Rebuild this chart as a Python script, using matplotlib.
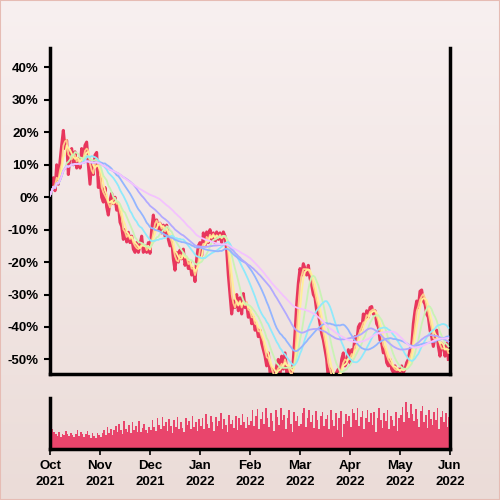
import numpy as np
import pandas as pd
import matplotlib
matplotlib.use("Agg")
import matplotlib.pyplot as plt
from matplotlib.patches import Rectangle

# price change in %, 30 samples per month (Oct 2021 .. May 2022)
price_oct = [0.6, 3, 6, 2, 10, 4, 11, 16, 20.6, 15, 17.5, 7, 13, 15, 10, 14, 9, 12, 9, 15,
             12, 16, 17, 10, 4, 11, 7, 13, 13.8, 3]
price_nov = [6, 0, -1.5, 3, -3, -5.5, -1, 1.2, -2, 0, -4, -2, -7.7, -9, -13, -10, -13.8, -10.8, -14, -12,
             -16, -17, -14, -17, -14.8, -12, -17, -15, -17, -14]
price_dec = [-17.3, -10, -5.5, -9, -7, -10, -8, -11, -8.6, -12, -8.6, -13, -15, -13, -19, -22.5, -17, -20, -16.3, -19,
             -16, -21, -18.8, -22, -20, -24, -22, -26, -19, -15]
price_jan = [-14, -18, -11, -15, -10.7, -14, -10, -13, -11, -14, -10.7, -13, -11, -14, -10.7, -12, -16.3, -24, -30, -36,
             -32, -34, -30, -35, -31, -36, -29.7, -34, -33, -37]
price_feb = [-35, -39, -37, -41, -40, -43, -41, -45, -47, -49, -52, -48, -54, -56, -53, -56, -52, -50, -55, -49,
             -53, -48, -54, -55, -53, -56, -50, -42, -33, -26.5]
price_mar = [-22, -24, -20.5, -22, -24, -21, -25, -27, -30, -31, -35, -36, -39, -42, -44, -47, -50, -56, -53, -56,
             -55, -57, -54, -53, -55, -50, -48, -52, -51, -47]
price_apr = [-51, -47, -48, -43, -45, -40, -39, -41, -36, -38, -35, -37, -34, -33.7, -36, -35, -39, -40, -44, -45,
             -48, -47, -51, -52, -50, -53, -54, -52, -54, -53]
price_may = [-54, -52, -54, -53, -51, -50, -47, -46, -39, -35, -32, -34, -29, -28.6, -32, -33, -36, -37, -41, -43,
             -46, -43, -41, -46, -49, -45, -46, -49, -45, -50]

vol_oct = [47, 40, 33, 30, 26, 34, 24, 30, 27, 36, 30, 25, 31, 28, 24, 30, 37, 26, 33, 30,
           24, 29, 35, 27, 22, 31, 26, 21, 31, 27]
vol_nov = [24, 31, 38, 27, 44, 32, 40, 28, 37, 46, 33, 50, 38, 29, 55, 40, 34, 48, 32, 52,
           37, 45, 34, 54, 33, 41, 49, 37, 32, 44]
vol_dec = [38, 56, 44, 35, 60, 47, 40, 63, 45, 52, 36, 58, 46, 32, 57, 44, 62, 40, 53, 42,
           34, 61, 47, 55, 39, 64, 43, 52, 35, 58]
vol_jan = [46, 60, 40, 68, 50, 42, 64, 52, 36, 62, 45, 55, 70, 40, 58, 47, 33, 66, 49, 57,
           42, 64, 38, 60, 47, 68, 52, 41, 62, 48]
vol_feb = [55, 76, 45, 64, 78, 40, 58, 72, 50, 80, 60, 44, 70, 55, 36, 76, 62, 47, 80, 56,
           66, 40, 60, 76, 50, 34, 72, 54, 64, 46]
vol_mar = [50, 70, 80, 44, 60, 76, 52, 66, 42, 74, 56, 40, 64, 72, 46, 58, 66, 40, 76, 56,
           46, 70, 38, 60, 74, 24, 50, 68, 54, 64]
vol_apr = [44, 78, 70, 56, 80, 46, 62, 74, 40, 60, 76, 52, 70, 48, 72, 34, 60, 80, 56, 42,
           70, 54, 76, 40, 64, 56, 46, 72, 36, 60]
vol_may = [66, 82, 52, 92, 72, 60, 88, 68, 54, 78, 58, 44, 74, 84, 52, 66, 42, 76, 58, 48,
           72, 56, 80, 40, 62, 74, 52, 70, 44, 62]

month_labels = ["Oct\n2021", "Nov\n2021", "Dec\n2021", "Jan\n2022", "Feb\n2022",
                "Mar\n2022", "Apr\n2022", "May\n2022", "Jun\n2022"]
ma_windows = [3, 5, 10, 20, 30, 45, 60]
ma_colors = ["#ffc98a", "#fff09a", "#c9f3b4", "#8fe9fb", "#93b5ff", "#b2a9ff", "#f4c2ff"]

price = pd.Series(price_oct + price_nov + price_dec + price_jan +
                  price_feb + price_mar + price_apr + price_may)
volume = vol_oct + vol_nov + vol_dec + vol_jan + vol_feb + vol_mar + vol_apr + vol_may
x = np.arange(len(price)) / 30.0

plt.rcParams['font.family'] = ['Liberation Sans', 'DejaVu Sans']

fig = plt.figure(figsize=(5, 5), dpi=100)

# background gradient
bg = fig.add_axes([0, 0, 1, 1], zorder=-10)
grad = np.linspace(0, 1, 256).reshape(-1, 1)
top = np.array([248, 240, 240]) / 255
bot = np.array([235, 220, 216]) / 255
img = top[None, None, :] * (1 - grad[:, :, None]) + bot[None, None, :] * grad[:, :, None]
bg.imshow(img, aspect='auto', extent=[0, 1, 0, 1])
bg.add_patch(Rectangle((0, 0), 1, 1, fill=False, edgecolor="#e6bcb4", lw=1.5,
                       transform=bg.transAxes))
bg.set_axis_off()

ax = fig.add_axes([0.1, 0.252, 0.8, 0.652])
ax.set_facecolor("none")
ax.plot(x, price, color="#e8365d", lw=2.2, zorder=2)
for w, c in zip(ma_windows, ma_colors):
    ax.plot(x, price.rolling(w, min_periods=1).mean(), color=c, lw=1.3, zorder=3)
ax.set_xlim(0, 8)
ax.set_ylim(-54.5, 46)
ax.set_yticks([40, 30, 20, 10, 0, -10, -20, -30, -40, -50])
ax.set_yticklabels([f"{v}%" for v in [40, 30, 20, 10, 0, -10, -20, -30, -40, -50]])
ax.set_xticks([])
ax.spines['top'].set_visible(False)
for s in ['left', 'right', 'bottom']:
    ax.spines[s].set_linewidth(2.5)
ax.tick_params(axis='y', length=4, width=1.5, labelsize=9.5, pad=4)
for lab in ax.get_yticklabels():
    lab.set_fontweight('bold')

axv = fig.add_axes([0.1, 0.102, 0.8, 0.102])
axv.set_facecolor("none")
axv.bar(x + 1 / 60, volume, width=0.9 / 30, color="#e9456c", linewidth=0)
axv.set_xlim(0, 8)
axv.set_ylim(0, 100)
axv.set_yticks([])
axv.set_xticks(range(9))
axv.set_xticklabels(month_labels, fontsize=9.5, fontweight='bold', linespacing=1.4)
axv.tick_params(axis='x', length=4, width=1.2, pad=4)
axv.spines['top'].set_visible(False)
for s in ['left', 'right', 'bottom']:
    axv.spines[s].set_linewidth(2.5)

fig.savefig("out.png", dpi=100)
